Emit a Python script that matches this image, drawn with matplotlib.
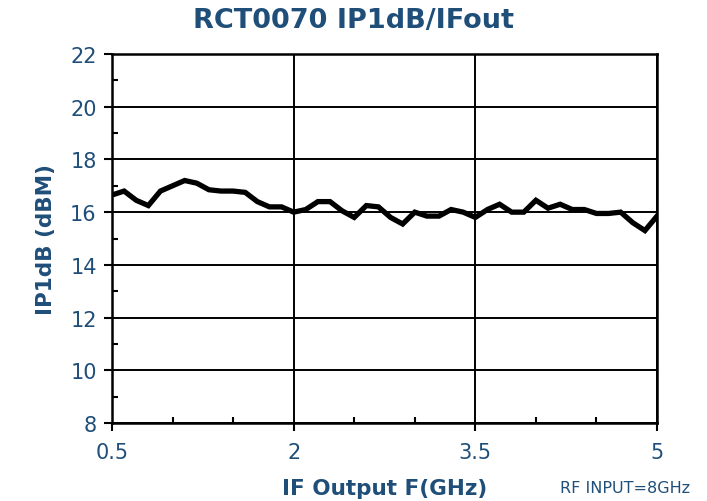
import matplotlib
matplotlib.use("Agg")
import matplotlib.pyplot as plt
from matplotlib.ticker import MultipleLocator, FixedLocator

freq_ghz = [0.5, 0.6, 0.7, 0.8, 0.9, 1.0, 1.1, 1.2, 1.3, 1.4, 1.5, 1.6, 1.7, 1.8, 1.9,
            2.0, 2.1, 2.2, 2.3, 2.4, 2.5, 2.6, 2.7, 2.8, 2.9, 3.0, 3.1, 3.2, 3.3, 3.4,
            3.5, 3.6, 3.7, 3.8, 3.9, 4.0, 4.1, 4.2, 4.3, 4.4, 4.5, 4.6, 4.7, 4.8, 4.9, 5.0]
ip1db = [16.65, 16.8, 16.45, 16.25, 16.8, 17.0, 17.2, 17.1, 16.85, 16.8, 16.8, 16.75, 16.4, 16.2, 16.2,
         16.0, 16.1, 16.4, 16.4, 16.05, 15.8, 16.25, 16.2, 15.8, 15.55, 16.0, 15.85, 15.85, 16.1, 16.0,
         15.8, 16.1, 16.3, 16.0, 16.0, 16.45, 16.15, 16.3, 16.1, 16.1, 15.95, 15.95, 16.0, 15.6, 15.3, 15.85]

x_ticks = [0.5, 2, 3.5, 5]
x_tick_labels = ["0.5", "2", "3.5", "5"]
y_ticks = [8, 10, 12, 14, 16, 18, 20, 22]

title = "RCT0070 IP1dB/IFout"
xlabel = "IF Output F(GHz)"
ylabel = "IP1dB (dBM)"
note = "RF INPUT=8GHz"

txt = "#1F4E79"
plt.rcParams['font.family'] = ['DejaVu Sans']

fig = plt.figure(figsize=(7.07, 5.02), dpi=100)
ax = fig.add_axes([0.1584, 0.1554, 0.7709, 0.735])

ax.plot(freq_ghz, ip1db, color="black", linewidth=3.8, solid_joinstyle="miter", zorder=3)

ax.set_xlim(0.5, 5)
ax.set_ylim(8, 22)
ax.xaxis.set_major_locator(FixedLocator(x_ticks))
ax.set_xticklabels(x_tick_labels)
ax.xaxis.set_minor_locator(MultipleLocator(0.5))
ax.yaxis.set_major_locator(FixedLocator(y_ticks))
ax.yaxis.set_minor_locator(MultipleLocator(1))

ax.grid(True, which="major", color="black", linewidth=1.4)
for s in ax.spines.values():
    s.set_linewidth(1.8)
    s.set_color("black")

ax.tick_params(which="major", direction="out", length=6, width=1.5, colors="black",
               labelcolor=txt, labelsize=15, pad=5)
ax.tick_params(axis="x", which="major", pad=8)
ax.tick_params(which="minor", direction="in", length=4, width=1.5, colors="black")

fig.text(0.5, 0.958, title, fontsize=19.5, fontweight="bold", color=txt, ha="center", va="center")
ax.set_xlabel(xlabel, fontsize=15.5, fontweight="bold", color=txt, labelpad=11)
ax.set_ylabel(ylabel, fontsize=15.5, fontweight="bold", color=txt, labelpad=10)
fig.text(0.976, 0.012, note, fontsize=11.5, color=txt, ha="right", va="bottom")

fig.savefig("out.png", dpi=100)
